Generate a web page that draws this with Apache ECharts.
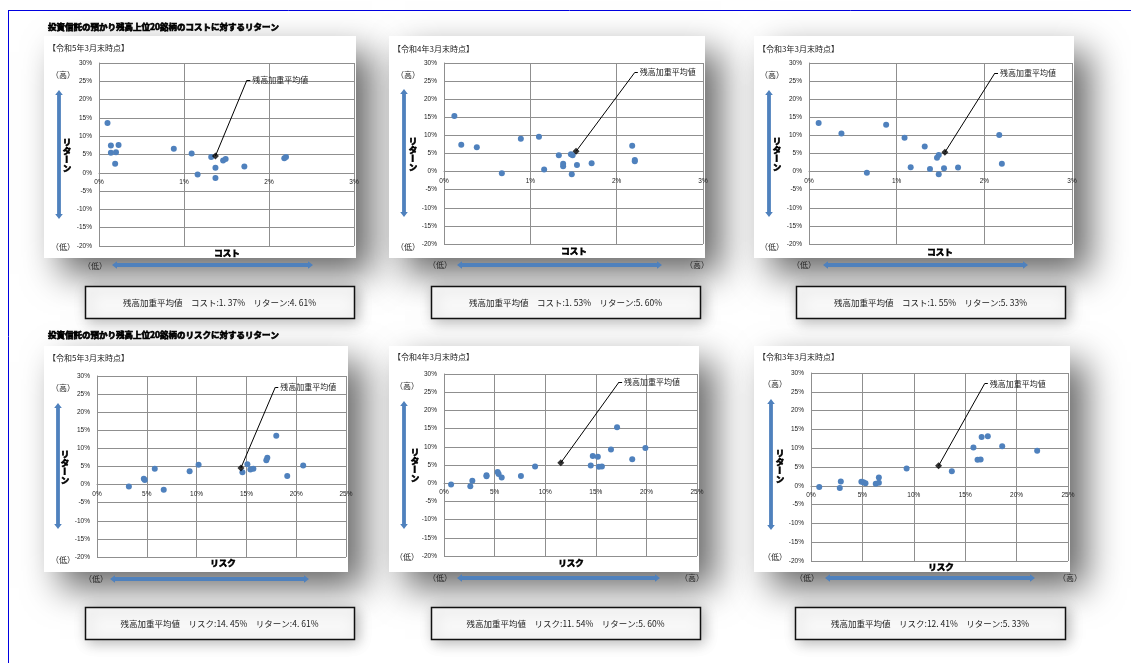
<!DOCTYPE html>
<html>
<head>
<meta charset="utf-8">
<script src="https://cdn.jsdelivr.net/npm/echarts@6/dist/echarts.min.js"></script>
<style>
html,body{margin:0;padding:0;background:#fff;}
#chart{width:1131px;height:663px;}
</style>
</head>
<body>
<div id="chart"></div>
<script>
// ---- data: [x, return] in percent ----
const titleCost = '投資信託の預かり残高上位20銘柄のコストに対するリターン';
const titleRisk = '投資信託の預かり残高上位20銘柄のリスクに対するリターン';
const periods = ['【令和5年3月末時点】', '【令和4年3月末時点】', '【令和3年3月末時点】'];

const costR5 = [[0.10,13.6],[0.14,7.45],[0.23,7.6],[0.14,5.45],[0.20,5.6],[0.19,2.45],[0.88,6.6],[1.09,5.3],
  [1.16,-0.45],[1.32,4.3],[1.37,1.35],[1.37,-1.45],[1.46,3.35],[1.49,3.8],[1.71,1.7],[2.18,4.0],[2.20,4.3]];
const costR4 = [[0.12,15.35],[0.20,7.45],[0.38,6.7],[0.67,-0.45],[0.89,9.1],[1.10,9.65],[1.16,0.55],[1.33,4.5],
  [1.38,2.2],[1.38,1.5],[1.47,4.8],[1.49,4.5],[1.48,-0.75],[1.54,1.85],[1.71,2.3],[2.18,7.15],[2.21,3.2],[2.21,2.85]];
const costR3 = [[0.11,13.4],[0.37,10.55],[0.66,-0.35],[0.88,12.95],[1.09,9.35],[1.16,1.2],[1.32,6.95],[1.38,0.75],
  [1.46,3.85],[1.48,4.6],[1.48,-0.7],[1.54,0.9],[1.70,1.1],[2.17,10.1],[2.20,2.2]];

const riskR5 = [[3.2,-0.55],[4.7,1.65],[4.8,1.3],[5.8,4.4],[6.7,-1.45],[9.3,3.7],[10.2,5.45],[14.6,3.4],[15.1,5.6],
  [15.4,4.15],[15.7,4.35],[17.1,7.45],[17.0,6.7],[18.0,13.5],[19.1,2.4],[20.7,5.25]];
const riskR4 = [[0.7,-0.35],[2.6,-0.85],[2.8,0.65],[4.2,2.2],[4.2,1.9],[5.3,3.1],[5.4,2.55],[5.7,1.55],[7.6,2.0],
  [9.0,4.6],[14.5,4.85],[14.7,7.5],[15.2,7.25],[15.3,4.5],[15.6,4.6],[16.5,9.25],[17.1,15.4],[18.6,6.6],[19.9,9.7]];
const riskR3 = [[0.8,-0.35],[2.8,-0.6],[2.9,1.15],[4.9,1.05],[5.1,0.95],[5.3,0.7],[6.3,0.55],[6.6,0.8],[6.6,2.2],
  [9.3,4.6],[13.7,3.9],[15.8,10.2],[16.2,6.9],[16.5,7.0],[16.6,13.0],[17.2,13.2],[18.6,10.5],[22.0,9.3]];

// balance-weighted averages [x, return]
const avgCostR5 = [1.37, 4.61];
const avgCostR4 = [1.53, 5.60];
const avgCostR3 = [1.55, 5.33];
const avgRiskR5 = [14.45, 4.61];
const avgRiskR4 = [11.54, 5.60];
const avgRiskR3 = [12.41, 5.33];

const yTicks = {min: -20, max: 30, step: 5};
const costTicks = {min: 0, max: 3, step: 1};
const riskTicks = {min: 0, max: 25, step: 5};

// ---- layout of the six panels ----
const panels = [
  {kind:'コスト', pts:costR5, avg:avgCostR5, ticks:costTicks, period:periods[0],
   grid:{left:99,top:63,width:255,height:183}, lead:[[1.74,25.3],[1.78,25.3]],
   px:48, py:48, vArrow:[59,90,219], yName:[67,155], hi:[63,75], lo:[63,247],
   hArrow:[112,313,265], xName:[227,253], xLo:[95,266], xHi:null,
   back:[44,36,312,222], box:[85,286,269,32]},
  {kind:'コスト', pts:costR4, avg:avgCostR4, ticks:costTicks, period:periods[1],
   grid:{left:444,top:63,width:259,height:181}, lead:[[2.21,27.4],[2.245,27.4]],
   px:393, py:49, vArrow:[404,89,217], yName:[413,154], hi:[408,75], lo:[408,247],
   hArrow:[457,662,265], xName:[574,251], xLo:[440,265], xHi:[697,265],
   back:[389,36,316,222], box:[431,286,269,32]},
  {kind:'コスト', pts:costR3, avg:avgCostR3, ticks:costTicks, period:periods[2],
   grid:{left:809,top:63,width:263,height:181}, lead:[[2.12,27.2],[2.156,27.2]],
   px:758, py:49, vArrow:[769,90,217], yName:[777,154], hi:[772,75], lo:[772,247],
   hArrow:[823,1028,265], xName:[940,252], xLo:[804,265], xHi:null,
   back:[754,36,320,222], box:[796,286,269,32]},
  {kind:'リスク', pts:riskR5, avg:avgRiskR5, ticks:riskTicks, period:periods[0],
   grid:{left:97,top:376,width:249,height:181}, lead:[[17.9,26.9],[18.2,26.9]],
   px:48, py:358, vArrow:[58,403,529], yName:[65,467], hi:[63,388], lo:[63,560],
   hArrow:[110,309,579], xName:[223,563], xLo:[96,579], xHi:null,
   back:[44,346,304,226], box:[85,607,269,32]},
  {kind:'リスク', pts:riskR4, avg:avgRiskR4, ticks:riskTicks, period:periods[1],
   grid:{left:444,top:374,width:253,height:182}, lead:[[17.3,27.8],[17.6,27.8]],
   px:393, py:357, vArrow:[404,401,529], yName:[415,465], hi:[407,386], lo:[407,557],
   hArrow:[457,660,578], xName:[571,563], xLo:[440,578], xHi:[692,578],
   back:[389,346,310,226], box:[431,607,269,32]},
  {kind:'リスク', pts:riskR3, avg:avgRiskR3, ticks:riskTicks, period:periods[2],
   grid:{left:811,top:373,width:257,height:188}, lead:[[16.9,27.2],[17.2,27.2]],
   px:758, py:357, vArrow:[771,399,530], yName:[780,466], hi:[775,384], lo:[775,557],
   hArrow:[825,1035,578], xName:[941,567], xLo:[807,578], xHi:[1070,578],
   back:[754,346,316,226], box:[795,607,270,32]}
];

const JP = "'Noto Sans CJK JP', 'Noto Sans', sans-serif";
const BLUE = '#4F81BD';
const GRIDLINE = '#8f8f8f';

function fmt(v) { return v.toFixed(2).replace('.', '. ') + '%'; }

function hArrowPts(x1, x2, y) {
  const t = 1.9, w = 3.8, h = 5;
  return [[x1,y],[x1+h,y-w],[x1+h,y-t],[x2-h,y-t],[x2-h,y-w],[x2,y],[x2-h,y+w],[x2-h,y+t],[x1+h,y+t],[x1+h,y+w]];
}
function vArrowPts(x, y1, y2) {
  const t = 1.9, w = 3.8, h = 5;
  return [[x,y1],[x+w,y1+h],[x+t,y1+h],[x+t,y2-h],[x+w,y2-h],[x,y2],[x-w,y2-h],[x-t,y2-h],[x-t,y1+h],[x-w,y1+h]];
}
function txt(x, y, s, size, opts) {
  opts = opts || {};
  const heavy = opts.weight === 'bold';
  return {
    type: 'text', x: x, y: y, z: opts.z || 20, rotation: opts.rotation || 0, silent: true,
    style: {
      text: s, fill: opts.color || '#222',
      stroke: heavy ? (opts.color || '#000') : null, lineWidth: heavy ? 0.7 : 0,
      font: (opts.weight || 'normal') + ' ' + size + 'px ' + JP,
      align: opts.align || 'center', textAlign: opts.align || 'center',
      verticalAlign: 'middle', textVerticalAlign: 'middle'
    }
  };
}

const grid = [], xAxis = [], yAxis = [], series = [], graphic = [];

// page frame
graphic.push({type:'line', z:30, silent:true, shape:{x1:8, y1:10.5, x2:1131, y2:10.5}, style:{stroke:'#0000e0', lineWidth:1}});
graphic.push({type:'line', z:30, silent:true, shape:{x1:8.5, y1:10, x2:8.5, y2:663}, style:{stroke:'#0000e0', lineWidth:1}});

// section titles
graphic.push(txt(48, 27, titleCost, 8.5, {weight:'bold', align:'left', color:'#000'}));
graphic.push(txt(48, 335, titleRisk, 8.5, {weight:'bold', align:'left', color:'#000'}));

panels.forEach(function (p, i) {
  grid.push(Object.assign({outerBoundsMode:'none', containLabel:false}, p.grid));

  // the horizontal axis sits on the 0% line of the return scale
  const zeroShift = -p.grid.height * (0 - yTicks.min) / (yTicks.max - yTicks.min);

  xAxis.push({
    type:'value', gridIndex:i, min:p.ticks.min, max:p.ticks.max, interval:p.ticks.step,
    position:'bottom', offset:zeroShift,
    axisLine:{show:true, onZero:false, lineStyle:{color:GRIDLINE, width:1}},
    axisTick:{show:false},
    axisLabel:{formatter:'{value}%', fontSize:6.5, color:'#222', margin:6, fontFamily:"'Liberation Sans', sans-serif"},
    splitLine:{show:true, showMinLine:true, showMaxLine:true, lineStyle:{color:GRIDLINE, width:1}}
  });
  yAxis.push({
    type:'value', gridIndex:i, min:yTicks.min, max:yTicks.max, interval:yTicks.step,
    axisLine:{show:true, onZero:false, lineStyle:{color:GRIDLINE, width:1}},
    axisTick:{show:false},
    axisLabel:{formatter:'{value}%', fontSize:6.5, color:'#222', margin:7, fontFamily:"'Liberation Sans', sans-serif"},
    splitLine:{show:true, showMinLine:true, showMaxLine:true, lineStyle:{color:GRIDLINE, width:1}}
  });

  series.push({
    type:'scatter', xAxisIndex:i, yAxisIndex:i, data:p.pts, symbol:'circle', symbolSize:6,
    itemStyle:{color:BLUE, opacity:1}, z:3, silent:true
  });
  series.push({
    type:'scatter', xAxisIndex:i, yAxisIndex:i, data:[p.avg], symbol:'diamond', symbolSize:7,
    itemStyle:{color:'#000'}, z:5, silent:true,
    markLine:{
      silent:true, symbol:['none','none'], animation:false, precision:4,
      lineStyle:{color:'#000', width:1, type:'solid'}, label:{show:false}, emphasis:{disabled:true},
      data:[[{coord:p.avg}, {coord:p.lead[0]}], [{coord:p.lead[0]}, {coord:p.lead[1]}]]
    },
    markPoint:{
      silent:true, animation:false, symbol:'circle', symbolSize:0,
      label:{show:true, position:'right', distance:2, formatter:'残高加重平均値', fontSize:8, color:'#222', fontFamily:JP},
      data:[{coord:p.lead[1]}]
    }
  });

  // panel backing with a broad soft drop shadow toward the lower right
  graphic.push({type:'rect', z:-5, silent:true,
    shape:{x:p.back[0], y:p.back[1], width:p.back[2], height:p.back[3]},
    style:{fill:'#fff', shadowBlur:34, shadowColor:'rgba(0,0,0,0.6)', shadowOffsetX:16, shadowOffsetY:16}});

  graphic.push(txt(p.px, p.py, p.period, 8, {align:'left'}));

  // return axis decoration
  graphic.push({type:'polygon', z:15, silent:true, shape:{points:vArrowPts(p.vArrow[0], p.vArrow[1], p.vArrow[2])}, style:{fill:BLUE}});
  graphic.push(txt(p.hi[0], p.hi[1], '（高）', 8));
  graphic.push(txt(p.lo[0], p.lo[1], '（低）', 8));
  const yChars = ['リ', 'タ', 'ー', 'ン'];
  yChars.forEach(function (c, k) {
    graphic.push(txt(p.yName[0], p.yName[1] - 12.75 + k * 8.5, c, 8.5,
      {weight:'bold', color:'#000', rotation: c === 'ー' ? Math.PI / 2 : 0}));
  });

  // x axis decoration
  graphic.push(txt(p.xName[0], p.xName[1], p.kind, 8.5, {weight:'bold', color:'#000'}));
  graphic.push({type:'polygon', z:15, silent:true, shape:{points:hArrowPts(p.hArrow[0], p.hArrow[1], p.hArrow[2])}, style:{fill:BLUE}});
  graphic.push(txt(p.xLo[0], p.xLo[1], '（低）', 8));
  if (p.xHi) graphic.push(txt(p.xHi[0], p.xHi[1], '（高）', 8));

  // summary box
  graphic.push({type:'rect', z:12, silent:true,
    shape:{x:p.box[0] + 0.5, y:p.box[1] + 0.5, width:p.box[2], height:p.box[3]},
    style:{fill:'#f8f8f8', stroke:'#111', lineWidth:1.5, shadowBlur:14, shadowColor:'rgba(0,0,0,0.28)', shadowOffsetX:3, shadowOffsetY:3}});
  graphic.push(txt(p.box[0] + p.box[2] / 2, p.box[1] + p.box[3] / 2 + 0.5,
    '残高加重平均値\u3000' + p.kind + ':' + fmt(p.avg[0]) + '\u3000リターン:' + fmt(p.avg[1]), 8.5, {z:25}));
});

const chart = echarts.init(document.getElementById('chart'), null, {renderer:'canvas'});
chart.setOption({
  backgroundColor:'#fff',
  animation:false,
  textStyle:{fontFamily:JP},
  grid:grid, xAxis:xAxis, yAxis:yAxis, series:series,
  graphic:{elements:graphic}
});
</script>
</body>
</html>
